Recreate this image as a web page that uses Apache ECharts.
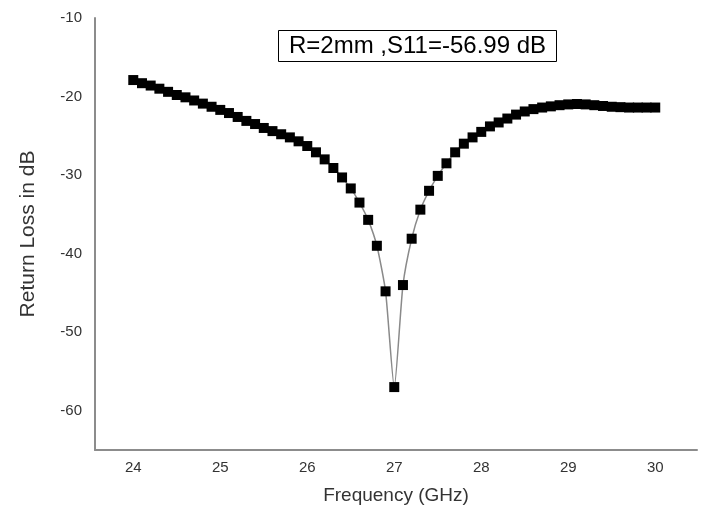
<!DOCTYPE html>
<html>
<head>
<meta charset="utf-8">
<script src="https://cdn.jsdelivr.net/npm/echarts@6/dist/echarts.min.js"></script>
<style>
  html, body { margin: 0; padding: 0; background: #fff; }
  #chart { width: 702px; height: 518px; }
</style>
</head>
<body>
<div id="chart"></div>
<script>
// Frequency sweep, 24-30 GHz in 0.1 GHz steps
const freqGHz = [
  24.0, 24.1, 24.2, 24.3, 24.4, 24.5, 24.6, 24.7, 24.8, 24.9,
  25.0, 25.1, 25.2, 25.3, 25.4, 25.5, 25.6, 25.7, 25.8, 25.9,
  26.0, 26.1, 26.2, 26.3, 26.4, 26.5, 26.6, 26.7, 26.8, 26.9,
  27.0, 27.1, 27.2, 27.3, 27.4, 27.5, 27.6, 27.7, 27.8, 27.9,
  28.0, 28.1, 28.2, 28.3, 28.4, 28.5, 28.6, 28.7, 28.8, 28.9,
  29.0, 29.1, 29.2, 29.3, 29.4, 29.5, 29.6, 29.7, 29.8, 29.9,
  30.0
];

// Return loss (dB)
const returnLoss = [
  -17.9, -18.3, -18.6, -19.0, -19.4, -19.8, -20.1, -20.5, -20.9, -21.3,
  -21.7, -22.1, -22.6, -23.1, -23.5, -24.0, -24.4, -24.8, -25.2, -25.7,
  -26.3, -27.1, -28.0, -29.1, -30.3, -31.7, -33.5, -35.7, -39.0, -44.8,
  -56.99, -44.0, -38.1, -34.4, -32.0, -30.1, -28.5, -27.1, -26.0, -25.2,
  -24.5, -23.8, -23.3, -22.8, -22.3, -21.9, -21.6, -21.4, -21.25, -21.1,
  -21.0, -20.95, -21.0, -21.1, -21.2, -21.3, -21.35, -21.4, -21.4, -21.4,
  -21.4
];

const annotation = 'R=2mm ,S11=-56.99 dB';

let chart = echarts.init(document.getElementById('chart'), null, { renderer: 'canvas' });

chart.setOption({
  animation: false,
  backgroundColor: '#fff',
  textStyle: { fontFamily: 'Liberation Sans, Arial, sans-serif' },
  title: {
    text: annotation,
    left: 278,
    top: 30,
    padding: [3, 11, 3, 11],
    borderColor: '#000',
    borderWidth: 1,
    backgroundColor: '#fff',
    textStyle: {
      fontSize: 24,
      lineHeight: 26,
      fontWeight: 'normal',
      color: '#000',
      fontFamily: 'Liberation Sans, Arial, sans-serif'
    }
  },
  grid: { left: 95, right: 5, top: 18, bottom: 68 },
  xAxis: {
    type: 'value',
    min: 23.56,
    max: 30.48,
    splitNumber: 7,
    name: 'Frequency (GHz)',
    nameLocation: 'middle',
    nameGap: 36,
    nameTextStyle: { fontSize: 19, color: '#333' },
    axisLine: { show: true, lineStyle: { color: '#8c8c8c', width: 2 } },
    axisTick: { show: false },
    splitLine: { show: false },
    axisLabel: {
      fontSize: 15,
      color: '#333',
      margin: 10,
      showMinLabel: false,
      showMaxLabel: false,
      formatter: v => (Number.isInteger(v) ? String(v) : '')
    }
  },
  yAxis: {
    type: 'value',
    min: -65,
    max: -10,
    interval: 5,
    name: 'Return Loss in dB',
    nameLocation: 'middle',
    nameGap: 56,
    nameRotate: 90,
    nameTextStyle: { fontSize: 21, color: '#333' },
    axisLine: { show: true, lineStyle: { color: '#8c8c8c', width: 2 } },
    axisTick: { show: false },
    splitLine: { show: false },
    axisLabel: {
      fontSize: 15,
      color: '#333',
      margin: 13,
      formatter: v => (v % 10 === 0 ? String(v) : '')
    }
  },
  series: [
    {
      type: 'line',
      data: freqGHz.map((f, i) => [f, returnLoss[i]]),
      smooth: 0.2,
      symbol: 'rect',
      symbolSize: 10,
      itemStyle: { color: '#000' },
      lineStyle: { color: '#8a8a8a', width: 1.5 }
    }
  ]
});
</script>
</body>
</html>
